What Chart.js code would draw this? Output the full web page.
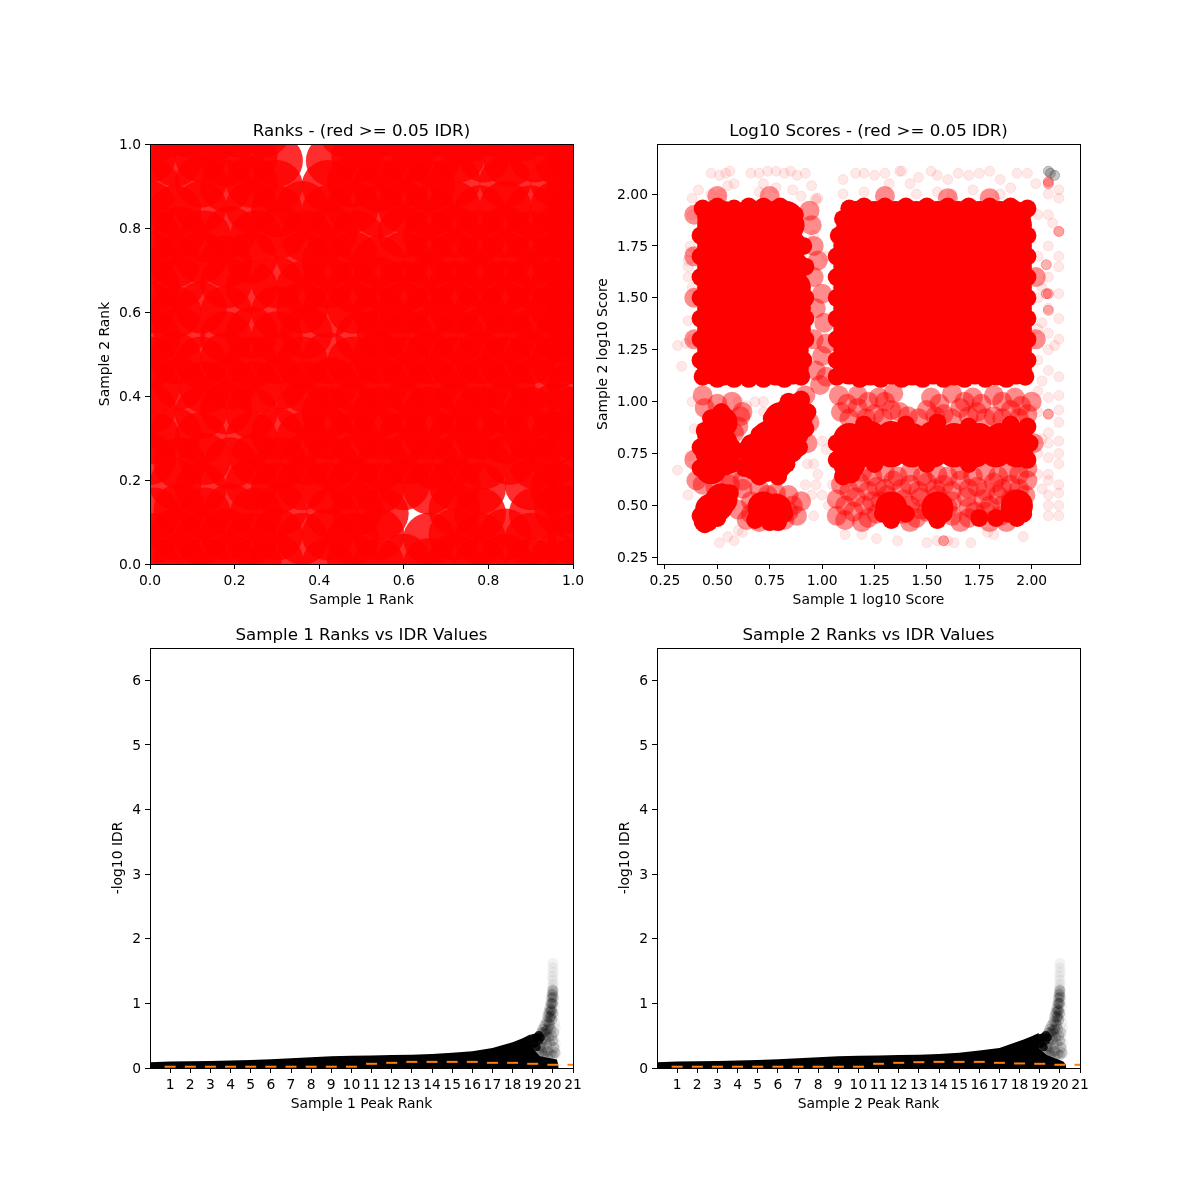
<!DOCTYPE html>
<html>
<head>
    <title>IDR plots</title>
    <script src="https://cdn.jsdelivr.net/npm/chart.js"></script>
    <style>
        body { margin: 0; background: #fff; }
        canvas { position: absolute; }
    </style>
</head>
<body>
    <canvas id="ranks" width="500" height="519" style="left:93px;top:100px"></canvas>
    <canvas id="scores" width="509" height="519" style="left:591px;top:100px"></canvas>
    <canvas id="peaks1" width="487" height="519" style="left:106px;top:604px"></canvas>
    <canvas id="peaks2" width="487" height="519" style="left:613px;top:604px"></canvas>

    <script>
        // the clouds are far too dense to read dot by dot, these are hand read samples of them
        const rankTicks = [0, 0.2, 0.4, 0.6, 0.8, 1];
        const scoreTicks = [0.25, 0.5, 0.75, 1, 1.25, 1.5, 1.75, 2];
        const peakXTicks = [1,2,3,4,5,6,7,8,9,10,11,12,13,14,15,16,17,18,19,20,21];
        const peakYTicks = [0,1,2,3,4,5,6];

        const rankPoints = [
            [.01,.0],[.07,.01],[.13,.0],[.19,.01],[.25,.0],[.3,.01],[.42,.0],[.48,.01],[.54,.0],[.6,.01],[.66,.0],[.72,.01],[.78,.0],[.84,.01],[.9,.0],[.96,.01],[1,.0],
            [.0,.06],[.06,.07],[.12,.06],[.18,.07],[.24,.06],[.3,.07],[.36,.06],[.42,.07],[.48,.06],[.54,.07],[.66,.06],[.72,.07],[.78,.06],[.84,.07],[.9,.06],[1,.06],
            [.01,.12],[.07,.13],[.13,.12],[.19,.13],[.25,.12],[.31,.13],[.43,.12],[.49,.13],[.55,.12],[.72,.13],[.78,.12],[.91,.12],[.97,.13],[1,.12],
            [.06,.19],[.12,.18],[.24,.19],[.3,.18],[.36,.19],[.42,.18],[.48,.19],[.54,.18],[.6,.19],[.66,.18],[.72,.19],[.78,.18],[.9,.19],[.96,.18],[1,.19],
            [.0,.25],[.07,.24],[.13,.25],[.19,.24],[.25,.25],[.31,.24],[.37,.25],[.43,.24],[.49,.25],[.55,.24],[.61,.25],[.67,.24],[.73,.25],[.79,.24],[.85,.25],[.91,.24],[.96,.25],
            [.01,.3],[.06,.31],[.12,.3],[.24,.3],[.3,.31],[.36,.3],[.42,.31],[.48,.3],[.54,.31],[.6,.3],[.66,.31],[.72,.3],[.78,.31],[.84,.3],[.9,.31],[.96,.3],[1,.31],
            [.0,.37],[.12,.36],[.18,.37],[.24,.36],[.36,.37],[.42,.36],[.48,.37],[.54,.36],[.6,.37],[.66,.36],[.72,.37],[.78,.36],[.84,.37],[.9,.36],[.96,.37],[1,.36],
            [.01,.42],[.07,.43],[.13,.42],[.19,.43],[.25,.42],[.31,.43],[.37,.42],[.43,.43],[.49,.42],[.55,.43],[.61,.42],[.67,.43],[.73,.42],[.79,.43],[.85,.42],[.91,.43],[1,.42],
            [.0,.48],[.06,.49],[.12,.48],[.18,.49],[.24,.48],[.3,.49],[.36,.48],[.42,.49],[.48,.48],[.54,.49],[.6,.48],[.66,.49],[.72,.48],[.78,.49],[.84,.48],[.9,.49],[.96,.48],[1,.49],
            [.01,.54],[.07,.55],[.18,.54],[.24,.55],[.3,.54],[.37,.55],[.5,.54],[.55,.55],[.61,.54],[.67,.55],[.73,.54],[.79,.55],[.85,.54],[.91,.55],[.97,.54],[1,.55],
            [.0,.61],[.06,.6],[.12,.61],[.18,.6],[.3,.6],[.36,.61],[.42,.6],[.48,.61],[.54,.6],[.6,.61],[.66,.6],[.72,.61],[.78,.6],[.84,.61],[.9,.6],[.96,.61],[1,.6],
            [.01,.66],[.07,.67],[.18,.67],[.24,.66],[.3,.67],[.36,.66],[.42,.67],[.48,.66],[.54,.67],[.6,.66],[.66,.67],[.72,.66],[.78,.67],[.84,.66],[.9,.67],[.96,.66],[1,.67],
            [.0,.73],[.06,.72],[.12,.73],[.18,.72],[.24,.73],[.36,.73],[.42,.72],[.48,.73],[.54,.72],[.6,.73],[.66,.72],[.72,.73],[.78,.72],[.84,.73],[.9,.72],[.96,.73],[1,.72],
            [.01,.78],[.07,.79],[.13,.78],[.19,.79],[.25,.78],[.31,.79],[.37,.78],[.43,.79],[.49,.78],[.6,.79],[.66,.78],[.72,.79],[.78,.78],[.84,.79],[.9,.78],[.96,.79],[1,.78],
            [.0,.85],[.06,.84],[.12,.85],[.24,.85],[.3,.84],[.36,.85],[.42,.84],[.48,.85],[.54,.84],[.6,.85],[.66,.84],[.72,.85],[.78,.84],[.84,.85],[.9,.84],[.96,.85],[1,.84],
            [.01,.9],[.12,.91],[.18,.9],[.24,.91],[.3,.9],[.42,.9],[.48,.91],[.54,.9],[.6,.91],[.66,.9],[.72,.91],[.84,.91],[.96,.91],[1,.9],
            [.0,.97],[.06,.96],[.12,.97],[.18,.96],[.24,.97],[.3,.96],[.43,.96],[.49,.97],[.55,.96],[.61,.97],[.67,.96],[.73,.97],[.79,.97],[.85,.96],[.91,.97],[.97,.96],[1,.97],
            [.02,1.02],[.09,1.03],[.15,1.02],[.21,1.03],[.27,1.03],[.46,1.03],[.52,1.02],[.58,1.03],[.64,1.02],[.7,1.03],[.76,1.02],[.82,1.03],[.88,1.02],[.94,1.03],[1,1.02]
        ];

        const scoreSolid = [
            [1.13,1.16],[1.23,1.155],[1.33,1.16],[1.43,1.155],[1.53,1.16],[1.63,1.155],[1.73,1.16],[1.83,1.155],[1.925,1.16],
            [1.13,1.25],[1.23,1.26],[1.33,1.25],[1.43,1.26],[1.53,1.25],[1.63,1.26],[1.73,1.25],[1.83,1.26],[1.925,1.25],
            [1.13,1.35],[1.23,1.35],[1.33,1.35],[1.43,1.35],[1.53,1.35],[1.63,1.35],[1.73,1.35],[1.83,1.35],[1.925,1.35],
            [1.13,1.45],[1.23,1.45],[1.33,1.45],[1.43,1.45],[1.53,1.45],[1.63,1.45],[1.73,1.45],[1.83,1.45],[1.925,1.45],
            [1.13,1.55],[1.23,1.55],[1.33,1.55],[1.43,1.55],[1.53,1.55],[1.63,1.55],[1.73,1.55],[1.83,1.55],[1.925,1.55],
            [1.13,1.65],[1.23,1.65],[1.33,1.65],[1.43,1.65],[1.53,1.65],[1.63,1.65],[1.73,1.65],[1.83,1.65],[1.925,1.65],
            [1.13,1.75],[1.23,1.75],[1.33,1.75],[1.43,1.75],[1.53,1.75],[1.63,1.75],[1.73,1.75],[1.83,1.75],[1.925,1.75],
            [1.14,1.82],[1.23,1.85],[1.33,1.85],[1.43,1.85],[1.53,1.85],[1.63,1.85],[1.73,1.85],[1.83,1.85],[1.925,1.85],
            [1.16,1.89],[1.25,1.89],[1.35,1.89],[1.45,1.89],[1.55,1.89],[1.65,1.89],[1.75,1.89],[1.85,1.89],[1.92,1.89],
            [.48,1.16],[.53,1.155],[.68,1.16],[.78,1.155],[.86,1.16],
            [.48,1.25],[.53,1.26],[.68,1.25],[.78,1.26],[.86,1.25],
            [.48,1.35],[.53,1.35],[.68,1.35],[.78,1.35],[.87,1.35],
            [.48,1.45],[.53,1.45],[.68,1.45],[.78,1.45],[.87,1.45],
            [.48,1.55],[.53,1.55],[.68,1.55],[.78,1.55],[.87,1.55],
            [.48,1.65],[.53,1.65],[.68,1.65],[.78,1.65],[.86,1.65],
            [.48,1.75],[.53,1.75],[.68,1.75],[.78,1.75],[.85,1.75],
            [.48,1.85],[.53,1.85],[.68,1.85],[.78,1.85],[.84,1.85],
            [.48,1.89],[.53,1.89],[.67,1.89],[.77,1.89],[.83,1.89],
            [.6,1.16],[.6,1.25],[.6,1.35],[.6,1.45],[.6,1.55],[.6,1.65],[.6,1.75],[.6,1.85],
            [.47,.68],[.47,.76],[.48,.84],[.52,.9],[.53,.72],[.52,.8],[.48,.72],
            [.47,.48],[.5,.5],[.52,.53],
            [.68,.7],[.73,.69],[.78,.7],[.72,.76],[.68,.77],[.8,.8],[.86,.85],[.78,.86],[.88,.93],[.83,.93],[.86,.96],[.74,.83],[.84,.78],[.8,.92],
            [.72,.49],[.78,.48],
            [1.13,.76],[1.23,.76],[1.33,.76],[1.43,.76],[1.53,.76],[1.63,.76],[1.73,.76],[1.83,.76],[1.93,.76],
            [1.13,.82],[1.23,.83],[1.33,.83],[1.43,.82],[1.53,.83],[1.63,.82],[1.75,.82],[1.85,.82],[1.93,.82],[1.13,.7],
            [1.33,.49],[1.55,.49],[1.93,.5]
        ];

        // fills the scallops along the block edges
        const scoreEdge = [
            [1.07,1.12],[1.07,1.2],[1.07,1.3],[1.07,1.4],[1.07,1.5],[1.07,1.6],[1.07,1.7],[1.08,1.8],[1.1,1.88],[1.13,1.93],
            [1.2,1.94],[1.3,1.94],[1.4,1.94],[1.5,1.94],[1.6,1.94],[1.7,1.94],[1.8,1.94],[1.9,1.94],[1.98,1.93],
            [1.98,1.8],[1.98,1.7],[1.98,1.6],[1.98,1.5],[1.98,1.4],[1.98,1.3],[1.98,1.2],[1.97,1.12],
            [1.18,1.11],[1.28,1.11],[1.38,1.11],[1.48,1.11],[1.58,1.11],[1.68,1.11],[1.78,1.11],[1.88,1.11],
            [.43,1.12],[.42,1.2],[.42,1.3],[.42,1.4],[.42,1.5],[.42,1.6],[.42,1.7],[.42,1.8],[.43,1.93],[.5,1.94],[.58,1.93],[.65,1.94],[.72,1.94],[.8,1.94],[.87,1.9],
            [.91,1.75],[.92,1.65],[.92,1.5],[.92,1.4],[.92,1.3],[.91,1.2],[.9,1.12],[.5,1.11],[.58,1.11],[.65,1.11],[.72,1.11],[.82,1.11],
            [.42,.68],[.42,.78],[.44,.86],[.47,.92],[.52,.95],[.57,.78],[.57,.7],[.43,.42],[.44,.41],[.46,.42],[.5,.44],[.42,.45],[.56,.56],
            [.63,.68],[.63,.76],[.66,.8],[.7,.84],[.76,.92],[.84,1.0],[.9,1.01],[.93,.95],[.92,.87],[.89,.78],[.83,.7],[.79,.64],[.7,.64],
            [1.07,.8],[1.07,.72],[1.98,.72],[1.99,.8],[1.98,.88],[1.2,.89],[1.4,.89],[1.55,.9],[1.7,.88],[1.9,.89],[1.1,.64],[1.14,.65],[1.25,.7],[1.5,.7],[1.7,.7],
            [.68,.43],[.75,.42],[.79,.42],[.82,.46],[1.33,.43],[1.29,.46],[1.55,.43],[1.58,.46],[1.93,.44],[1.96,.46],[1.89,.46],[1.4,.46],[1.75,.44],[1.83,.44]
        ];

        const scoreMid = [
            [1.07,.45],[1.15,.47],[1.22,.44],[1.38,.46],[1.45,.44],[1.5,.47],[1.62,.45],[1.7,.44],[1.78,.47],[1.85,.45],[1.11,.43],[1.19,.42],[1.26,.46],[1.42,.42],[1.47,.48],[1.66,.42],[1.73,.47],[1.8,.42],[1.88,.42],
            [1.07,.53],[1.16,.54],[1.24,.52],[1.31,.55],[1.39,.53],[1.47,.54],[1.55,.55],[1.62,.52],[1.69,.54],[1.77,.53],[1.84,.55],[1.9,.53],[1.97,.55],[1.11,.5],[1.2,.5],[1.28,.52],[1.42,.5],[1.6,.49],[1.7,.49],[1.8,.5],[1.86,.5],
            [1.09,.6],[1.18,.61],[1.26,.59],[1.34,.62],[1.42,.6],[1.5,.61],[1.58,.6],[1.66,.62],[1.74,.59],[1.82,.61],[1.9,.6],[1.98,.62],[1.13,.57],[1.22,.57],[1.3,.58],[1.38,.58],[1.46,.57],[1.54,.58],[1.62,.57],[1.7,.58],[1.78,.57],[1.86,.58],[1.94,.58],
            [1.19,.66],[1.3,.66],[1.42,.66],[1.55,.65],[1.66,.67],[1.78,.66],[1.89,.66],[1.98,.68],[1.24,.64],[1.36,.64],[1.48,.64],[1.6,.64],[1.72,.64],[1.84,.64],[1.94,.65],
            [1.09,.95],[1.17,.97],[1.25,.94],[1.33,.96],[1.41,.93],[1.5,.96],[1.58,.94],[1.66,.97],[1.74,.95],[1.82,.93],[1.9,.96],[1.98,.94],[1.13,.92],[1.21,.92],[1.29,.92],[1.37,.95],[1.46,.92],[1.54,.93],[1.62,.92],[1.7,.93],[1.78,.92],[1.86,.92],[1.94,.92],
            [1.08,1.03],[1.17,1.03],[1.27,1.02],[1.34,1.04],[1.52,1.02],[1.62,1.04],[1.72,1.02],[1.82,1.03],[1.92,1.02],[2.0,1.0],[1.12,.99],[1.22,1.0],[1.3,1.0],[1.56,.99],[1.68,1.0],[1.76,.99],[1.86,1.0],[1.95,.98],
            [.97,1.15],[1.0,1.22],[.96,1.3],[1.01,1.38],[.97,1.45],[1.0,1.52],[.96,1.6],[.98,1.68],[.96,1.75],[.95,1.85],[.94,1.92],[1.02,1.12],[1.02,1.28],[.99,1.08],
            [.43,.6],[.49,.59],[.56,.6],[.44,.97],[.43,1.03],[.5,.99],[.57,1.0],[.56,.65],[.6,.88],[.61,.93],[.58,.85],
            [.62,.58],[.7,.58],[.78,.56],[.84,.55],[.6,.48],[.64,.43],[.84,.47],[.88,.45],[.82,.43],[.9,.52],[.93,.8],[.94,.9],[.92,1.03],[.62,.95],[.66,.52],[.74,.55],[.66,.46],[.7,.42],[.86,.5],[.62,.62],
            [.39,1.3],[.39,1.5],[.39,1.7],[.39,1.9],[.39,.72],[.4,.62],[.5,1.99],[.75,1.99],[1.3,1.99],[1.6,1.98],[1.8,1.98],[2.02,1.3],[2.02,1.6],[2.01,.8]
        ];

        const scorePale = [
            [.47,2.1],[.51,2.09],[.54,2.1],[.56,2.11],[.55,2.04],[.47,2.0],[.52,2.0],[.41,2.02],[.38,1.98],[.58,2.05],[.66,2.1],[.7,2.1],[.72,2.05],[.74,2.11],[.78,2.11],[.82,2.1],[.85,2.11],[.88,2.09],[.92,2.1],[.95,2.04],[.98,1.98],[.97,1.98],[.7,2.01],[.78,2.03],[.86,2.02],[.9,1.99],
            [1.1,2.07],[1.16,2.1],[1.2,2.1],[1.25,2.09],[1.3,2.1],[1.32,2.05],[1.37,2.11],[1.38,2.11],[1.42,2.05],[1.46,2.08],[1.52,2.11],[1.55,2.09],[1.6,2.07],[1.65,2.1],[1.7,2.09],[1.75,2.1],[1.8,2.11],[1.85,2.07],[1.9,2.03],[1.93,2.1],[1.98,2.1],[2.02,2.05],[1.45,2.0],[1.55,2.01],[1.62,2.0],[1.72,2.02],[1.85,2.0],[1.2,2.01],[1.1,2.0],
            [2.08,2.0],[2.13,2.02],[2.13,1.98],[2.08,1.9],[2.13,1.82],[2.1,1.86],[2.08,1.75],[2.13,1.7],[2.13,1.65],[2.08,1.6],[2.05,1.55],[2.13,1.52],[2.08,1.45],[2.13,1.4],[2.05,1.38],[2.08,1.33],[2.13,1.3],[2.08,1.25],[2.11,1.27],[2.08,1.15],[2.13,1.12],[2.05,1.1],[2.13,1.03],[2.08,1.02],[2.13,.96],[2.08,.94],[2.13,.9],[2.08,.85],[2.13,.81],[2.05,.82],[2.08,.8],[2.13,.75],[2.08,.73],[2.13,.7],[2.08,.65],[2.13,.6],[2.08,.62],[2.05,.58],[2.13,.56],[2.08,.55],[2.13,.5],[2.08,.5],[2.13,.45],[2.08,.45],[2.03,.65],[2.03,.75],[2.03,.95],[2.03,1.05],[2.03,1.2],[2.03,1.35],[2.03,1.5],[2.03,1.7],[2.03,1.9],
            [.31,1.27],[.33,1.17],[.35,1.28],[.36,1.39],[.36,1.6],[.36,1.65],[.37,1.72],[.36,1.68],[.37,1.75],[.38,1.9],[.31,.67],[.37,.74],[.36,.55],[.38,1.0],[.39,.87],[.38,1.55],[.38,1.3],
            [.51,.32],[.55,.35],[.58,.33],[.62,.37],[.6,.38],[1.11,.36],[1.19,.36],[1.26,.34],[1.36,.33],[1.5,.32],[1.55,.33],[1.58,.33],[1.6,.33],[1.63,.32],[1.71,.32],[1.79,.37],[1.82,.36],[1.96,.35],
            [.95,.55],[.97,.6],[1.0,.81],[1.02,.77],[.98,.65],[1.0,.55],[.96,.45],[1.05,.6],[.93,.7],[.96,.7],[.92,.6],[1.03,.5],[.6,1.0],[.64,.98],[.68,1.0],[.72,1.0],[.72,.95],[.97,1.97],[.96,1.8],[1.02,1.7]
        ];
        const scoreGrey = [[2.08,2.11],[2.11,2.09],[2.09,2.1]];
        const scoreDark = [[2.08,2.06],[2.08,2.05],[2.08,1.52],[2.07,1.52],[2.08,1.44],[2.07,1.66],[2.08,.94],[1.58,.33],[2.13,1.82]];

        // orange dashes and the top edge of the black band
        const sample1Medians = [.02,.02,.02,.02,.02,.02,.02,.02,.02,.02,.065,.08,.095,.095,.095,.095,.08,.08,.065,.05,.05];
        const sample2Medians = [.02,.02,.02,.02,.02,.02,.02,.02,.02,.02,.065,.08,.09,.095,.095,.095,.08,.07,.065,.05,.05];
        const sample1Edge = [[0,.09],[1,.1],[2,.105],[3,.11],[4,.115],[5,.125],[6,.135],[7,.15],[8,.165],[9,.18],[10,.19],[11,.195],[12,.2],[13,.205],[14,.215],[15,.235],[16,.26],[17,.31],[18,.4],[18.5,.46],[18.87,.52],[19,.31],[19.36,.18],[20.2,.13],[20.27,.05],[20.29,0]];
        const sample2Edge = [[0,.09],[1,.1],[2,.105],[3,.11],[4,.115],[5,.125],[6,.135],[7,.15],[8,.165],[9,.18],[10,.19],[11,.195],[12,.2],[13,.205],[14,.215],[15,.235],[16,.27],[17,.31],[18.2,.44],[18.6,.49],[18.95,.54],[18.98,.3],[19.35,.2],[20.17,.1],[20.3,.05],[20.32,0]];
        const wedgePoints = [[19,.46],[19.1,.47],[19.2,.48],[19.3,.51],[19.1,.38],[19.2,.32],[18.98,.36],[19.3,.42],[19.4,.47]];
        const tailDark = [[19.5,.6],[19.6,.66],[19.7,.72],[19.75,.8],[19.8,.86],[19.85,.92],[19.9,1.0],[19.95,1.08],[19.98,1.14],[20,1.2],[19.65,.58],[19.8,.7],[19.9,.8],[19.95,.9],[20,1.0],[20.02,1.1],[19.55,.55],[19.45,.55],[19.75,.6],[19.85,.66],[19.95,.75],[20,.85],[19.9,.88],[19.85,.78],[19.95,1.0]];
        const tailMid = [[19.3,.24],[19.4,.3],[19.5,.2],[19.45,.4],[19.55,.32],[19.6,.24],[19.65,.44],[19.7,.36],[19.75,.26],[19.8,.48],[19.85,.38],[19.9,.22],[19.95,.5],[20,.42],[20.05,.32],[20.1,.24],[19.35,.34],[19.5,.46],[19.75,.18],[20,.2],[19.6,.52],[19.9,.6],[20.05,.55],[19.7,.54],[19.45,.25]];
        const tailPale = [[20,1.62],[20,1.55],[20.02,1.48],[19.98,1.42],[20,1.36],[20.02,1.3],[19.97,1.26],[20,1.22],[20.03,1.18],[19.96,1.15],[19.9,1.1],[20.05,1.06],[20.08,.95],[20.05,.8],[20.1,.7],[20.12,.62],[20.05,.45],[20.12,.38],[20.1,.3],[20.15,.22]];

        function xy(pairs) {
            return pairs.map(p => ({x: p[0], y: p[1]}));
        }

        function dots(pairs, color, radius, edge) {
            return {
                data: xy(pairs),
                pointRadius: radius,
                backgroundColor: color,
                borderColor: color,
                pointBorderWidth: edge || 0
            };
        }

        // top and right spines
        const framePlugin = {
            id: 'frame',
            afterDraw(chart) {
                const a = chart.chartArea, ctx = chart.ctx;
                const l = Math.round(a.left), t = Math.round(a.top);
                ctx.save();
                ctx.strokeStyle = '#000';
                ctx.lineWidth = 1;
                ctx.strokeRect(l + 0.5, t + 0.5, Math.round(a.right) - l, Math.round(a.bottom) - t);
                ctx.restore();
            }
        };

        Chart.defaults.font.family = '"DejaVu Sans"';
        Chart.defaults.font.size = 13.89;
        Chart.defaults.color = '#000';

        function axis(title, min, max, ticks, format, boxSize, vertical) {
            return {
                type: 'linear',
                min: min,
                max: max,
                title: {display: true, text: title, font: {size: 13.89}, padding: {top: 4, bottom: 4}},
                grid: {drawOnChartArea: false, drawTicks: true, tickLength: 5, color: '#000'},
                border: {display: true, color: '#000'},
                ticks: {autoSkip: false, maxRotation: 0, padding: 4, labelOffset: vertical ? 1 : 0, callback: format},
                afterBuildTicks: s => { s.ticks = ticks.map(v => ({value: v})); },
                afterFit: s => { if (vertical) s.width = boxSize; else s.height = boxSize; }
            };
        }

        function draw(id, title, datasets, xScale, yScale) {
            new Chart(document.getElementById(id), {
                type: 'scatter',
                data: {datasets: datasets},
                options: {
                    responsive: false,
                    animation: false,
                    layout: {autoPadding: false, padding: {top: 22, right: 20, bottom: 6, left: 0}},
                    plugins: {
                        legend: {display: false},
                        tooltip: {enabled: false},
                        title: {display: true, text: title, fullSize: false, font: {size: 16.67, weight: 'normal'}, padding: {top: 0, bottom: 2}}
                    },
                    scales: {x: xScale, y: yScale}
                },
                plugins: [framePlugin]
            });
        }

        function peakSets(medians, edge) {
            return [
                {data: medians.map((m, i) => ({x: peakXTicks[i], y: m})), pointStyle: 'line', pointRadius: 5.5, pointBorderWidth: 2, borderColor: '#ff7f0e', backgroundColor: '#ff7f0e'},
                dots(wedgePoints, 'rgba(0,0,0,0.85)', 4),
                dots(tailDark, 'rgba(0,0,0,0.2)', 5.5),
                dots(tailMid, 'rgba(0,0,0,0.16)', 5.5),
                dots(tailPale, 'rgba(0,0,0,0.05)', 5.5),
                {data: xy(edge), showLine: true, tension: 0, fill: 'origin', pointRadius: 0, borderWidth: 0, borderColor: '#000', backgroundColor: '#000'}
            ];
        }

        const one = v => v.toFixed(1);
        const two = v => v.toFixed(2);
        const plain = v => String(v);

        draw('ranks', 'Ranks - (red >= 0.05 IDR)',
            [dots(rankPoints, 'rgba(255,0,0,0.82)', 26)],
            axis('Sample 1 Rank', 0, 1, rankTicks, one, 49, false),
            axis('Sample 2 Rank', 0, 1, rankTicks, one, 57, true));

        draw('scores', 'Log10 Scores - (red >= 0.05 IDR)',
            [dots(scoreGrey, 'rgba(70,70,70,0.3)', 5, 1),
             dots(scoreDark, 'rgba(255,0,0,0.3)', 5, 1),
             dots(scoreSolid, '#f00', 16),
             dots(scoreEdge, '#f00', 9),
             dots(scoreMid, 'rgba(255,0,0,0.45)', 10),
             dots(scorePale, 'rgba(255,0,0,0.09)', 5, 1)],
            axis('Sample 1 log10 Score', 0.212, 2.231, scoreTicks, two, 49, false),
            axis('Sample 2 log10 Score', 0.218, 2.241, scoreTicks, two, 66, true));

        draw('peaks1', 'Sample 1 Ranks vs IDR Values', peakSets(sample1Medians, sample1Edge),
            axis('Sample 1 Peak Rank', 0, 21, peakXTicks, plain, 49, false),
            axis('-log10 IDR', 0, 6.5, peakYTicks, plain, 44, true));

        draw('peaks2', 'Sample 2 Ranks vs IDR Values', peakSets(sample2Medians, sample2Edge),
            axis('Sample 2 Peak Rank', 0, 21, peakXTicks, plain, 49, false),
            axis('-log10 IDR', 0, 6.5, peakYTicks, plain, 44, true));
    </script>
</body>
</html>
